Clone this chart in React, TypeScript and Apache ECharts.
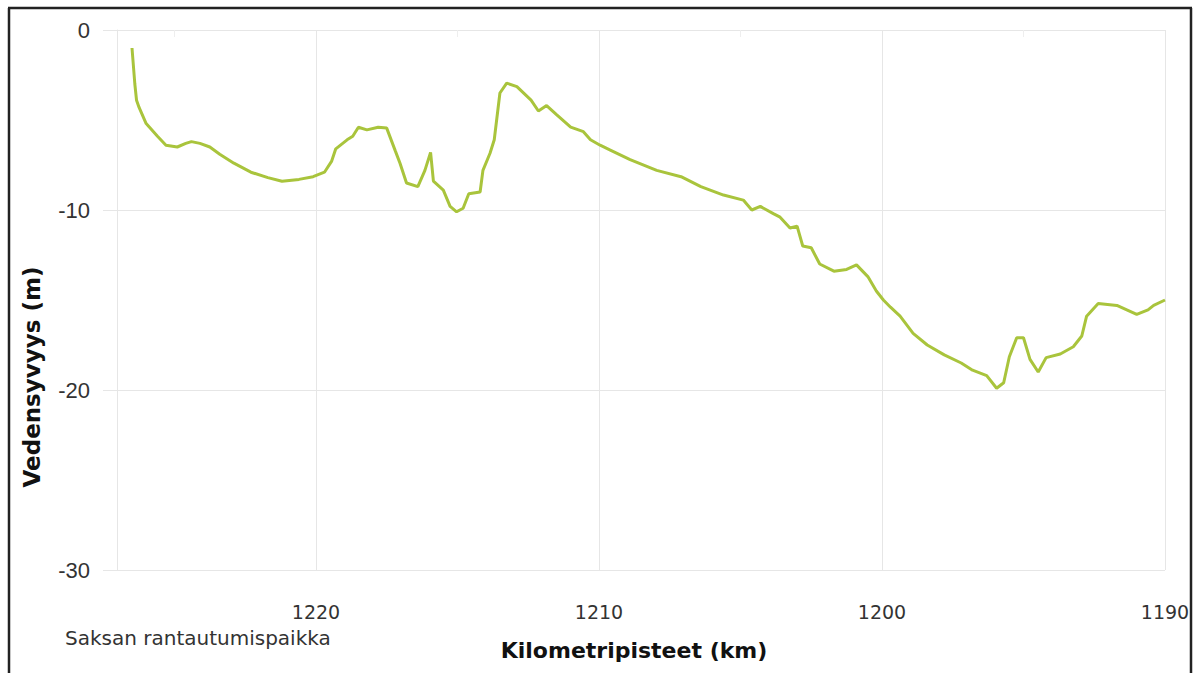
import React, { useEffect, useRef } from "react";
import * as echarts from "echarts";

const kmPoints = [
  1226.5, 1226.4, 1226.34, 1226.25, 1226.0, 1225.6, 1225.3, 1224.9, 1224.6, 1224.4,
  1224.1, 1223.75, 1223.4, 1222.9, 1222.3, 1221.7, 1221.2, 1220.6, 1220.1, 1219.7,
  1219.45, 1219.3, 1218.9, 1218.7, 1218.5, 1218.2, 1217.8, 1217.5, 1217.2, 1217.03,
  1216.8, 1216.4, 1216.15, 1215.95, 1215.85, 1215.5, 1215.26, 1215.03, 1214.8, 1214.6,
  1214.2, 1214.1, 1213.85, 1213.7, 1213.5, 1213.26, 1212.9, 1212.4, 1212.14, 1211.85,
  1211.5, 1211.0, 1210.55, 1210.3, 1209.96, 1209.6, 1208.9, 1207.96, 1207.1, 1206.4,
  1205.6, 1204.9, 1204.6, 1204.3, 1203.84, 1203.6, 1203.25, 1203.0, 1202.8, 1202.5,
  1202.2, 1201.7, 1201.25, 1200.9, 1200.5, 1200.2, 1199.95, 1199.7, 1199.36, 1198.9,
  1198.4, 1197.8, 1197.2, 1196.8, 1196.3, 1195.95, 1195.7, 1195.5, 1195.24, 1195.0,
  1194.77, 1194.48, 1194.2, 1193.7, 1193.24, 1192.94, 1192.77, 1192.36, 1191.7, 1191.35,
  1191.0, 1190.6, 1190.4, 1190.0,
];

const depthValues = [
  -1.0, -3.0, -3.9, -4.3, -5.2, -5.9, -6.4, -6.5, -6.3, -6.2,
  -6.3, -6.5, -6.9, -7.4, -7.9, -8.2, -8.4, -8.3, -8.15, -7.9,
  -7.3, -6.6, -6.1, -5.9, -5.4, -5.55, -5.4, -5.45, -6.7, -7.4,
  -8.5, -8.7, -7.8, -6.8, -8.4, -8.9, -9.8, -10.1, -9.9, -9.1,
  -9.0, -7.8, -6.85, -6.1, -3.5, -2.95, -3.15, -3.9, -4.5, -4.2,
  -4.7, -5.4, -5.65, -6.1, -6.4, -6.67, -7.2, -7.8, -8.15, -8.7,
  -9.17, -9.45, -10.0, -9.8, -10.2, -10.4, -11.0, -10.9, -12.0, -12.1,
  -13.0, -13.4, -13.3, -13.05, -13.7, -14.5, -15.0, -15.4, -15.9, -16.85,
  -17.5, -18.05, -18.5, -18.9, -19.2, -19.9, -19.6, -18.15, -17.1, -17.1,
  -18.3, -19.0, -18.2, -18.0, -17.6, -17.0, -15.9, -15.2, -15.3, -15.55,
  -15.8, -15.55, -15.3, -15.0,
];

const xTickLabels = [1190, 1200, 1210, 1220];
const yTickLabels = [0, -10, -20, -30];

const yAxisTitle = "Vedensyvyys (m)";
const xAxisTitle = "Kilometripisteet (km)";
const startNote = "Saksan rantautumispaikka";

export default function App() {
  const ref = useRef<HTMLDivElement>(null);

  useEffect(() => {
    if (!ref.current) return;
    const chart = echarts.init(ref.current, null, { renderer: "svg" });
    const gridColor = "#e6e6e6";
    chart.setOption({
      animation: false,
      backgroundColor: "#ffffff",
      grid: { left: 117, top: 30, width: 1048, height: 540, containLabel: false },
      xAxis: {
        type: "value",
        inverse: true,
        min: 1190,
        max: 1227.03,
        interval: 10,
        axisLine: { show: true, lineStyle: { color: gridColor, width: 1 } },
        axisTick: { show: true, length: 20, lineStyle: { color: gridColor } },
        minorTick: { show: true, splitNumber: 2, length: 7, lineStyle: { color: "#eeeeee" } },
        splitLine: { show: true, lineStyle: { color: gridColor, width: 1 } },
        axisLabel: {
          margin: 32,
          fontFamily: "DejaVu Sans",
          fontSize: 19,
          color: "#333333",
          showMaxLabel: false,
          formatter: (v: number) => (xTickLabels.includes(Math.round(v)) && Math.abs(v - Math.round(v)) < 1e-6 ? String(Math.round(v)) : ""),
        },
      },
      yAxis: {
        type: "value",
        min: -30,
        max: 0,
        interval: 10,
        axisLine: { show: true, lineStyle: { color: gridColor, width: 1 } },
        axisTick: { show: true, length: 14, lineStyle: { color: gridColor } },
        splitLine: { show: true, lineStyle: { color: gridColor, width: 1 } },
        axisLabel: {
          margin: 27,
          fontFamily: "Liberation Sans",
          fontSize: 22,
          color: "#333333",
          formatter: (v: number) => (yTickLabels.includes(v) ? String(v) : ""),
        },
      },
      series: [
        {
          type: "line",
          data: kmPoints.map((k, i) => [k, depthValues[i]]),
          showSymbol: false,
          symbol: "none",
          lineStyle: { color: "#a9c43c", width: 3 },
          silent: true,
        },
      ],
      graphic: [
        { type: "line", shape: { x1: 9, y1: 8, x2: 9, y2: 673 }, style: { stroke: "#222222", lineWidth: 2.5 } },
        { type: "line", shape: { x1: 8, y1: 8, x2: 1192, y2: 8 }, style: { stroke: "#222222", lineWidth: 2.5 } },
        { type: "line", shape: { x1: 1191, y1: 8, x2: 1191, y2: 673 }, style: { stroke: "#222222", lineWidth: 2.5 } },
        {
          type: "text",
          x: 32,
          y: 377,
          rotation: Math.PI / 2,
          style: {
            text: yAxisTitle,
            align: "center",
            verticalAlign: "middle",
            font: "bold 23px 'DejaVu Sans'",
            fill: "#111111",
          },
        },
        {
          type: "text",
          x: 634,
          y: 650,
          style: {
            text: xAxisTitle,
            align: "center",
            verticalAlign: "middle",
            font: "bold 22px 'DejaVu Sans'",
            fill: "#111111",
          },
        },
        {
          type: "text",
          x: 65,
          y: 638,
          style: {
            text: startNote,
            align: "left",
            verticalAlign: "middle",
            font: "20px 'DejaVu Sans'",
            fill: "#333333",
          },
        },
      ],
    });
    return () => chart.dispose();
  }, []);

  return (
    <div
      ref={ref}
      style={{ position: "fixed", left: 0, top: 0, width: 1199, height: 673, background: "#fff" }}
    />
  );
}
